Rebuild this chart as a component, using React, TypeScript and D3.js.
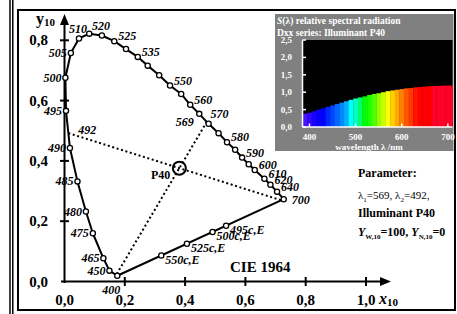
import React from 'react';
import * as d3 from 'd3';

// spectral locus, CIE 1964 (10 deg) chromaticity
const locusWl = [400, 450, 465, 475, 480, 485, 490, 495, 500, 505, 510, 515, 520, 525, 530, 535, 540, 545, 550, 555, 560, 565, 570, 575, 580, 585, 590, 595, 600, 610, 620, 640, 700];
const locusX = [0.175, 0.149, 0.129, 0.094, 0.071, 0.043, 0.018, 0.005, 0.003, 0.021, 0.048, 0.082, 0.124, 0.165, 0.204, 0.243, 0.276, 0.314, 0.350, 0.387, 0.417, 0.447, 0.478, 0.511, 0.539, 0.566, 0.589, 0.611, 0.631, 0.663, 0.683, 0.705, 0.727];
const locusY = [0.019, 0.036, 0.077, 0.160, 0.232, 0.332, 0.443, 0.566, 0.676, 0.758, 0.806, 0.822, 0.816, 0.797, 0.771, 0.745, 0.716, 0.684, 0.650, 0.622, 0.586, 0.556, 0.523, 0.492, 0.462, 0.437, 0.411, 0.389, 0.370, 0.341, 0.321, 0.298, 0.273];
const labeledWl = [400, 450, 465, 475, 480, 485, 490, 495, 500, 505, 510, 520, 525, 535, 550, 560, 570, 580, 590, 600, 610, 620, 640, 700];

// points on the purple line
const purpleNames = ['550c,E', '525c,E', '500c,E', '495c,E'];
const purpleX = [0.321, 0.406, 0.491, 0.536];
const purpleY = [0.086, 0.125, 0.164, 0.185];

const whiteName = 'P40';
const whiteX = 0.381;
const whiteY = 0.376;
const lambda1 = 569;
const lambda2 = 492;

const xTicks = [0, 0.2, 0.4, 0.6, 0.8, 1.0];
const yTicks = [0, 0.2, 0.4, 0.6, 0.8];

// inset: relative spectral radiation of P40
const spectWl = [390, 400, 410, 420, 430, 440, 450, 460, 470, 480, 490, 500, 510, 520, 530, 540, 550, 560, 570, 580, 590, 600, 610, 620, 630, 640, 650, 660, 670, 680, 690, 700];
const spectS = [0.38, 0.41, 0.45, 0.50, 0.54, 0.58, 0.62, 0.66, 0.70, 0.74, 0.78, 0.82, 0.85, 0.88, 0.92, 0.95, 0.97, 1.00, 1.03, 1.05, 1.07, 1.09, 1.11, 1.12, 1.14, 1.15, 1.16, 1.17, 1.18, 1.18, 1.19, 1.19];
const spectColors = ['#4a14ff', '#3008ff', '#1a00ff', '#0800ff', '#0000ff', '#0028ff', '#0048ff', '#0068ff', '#0088ff', '#00b0ff', '#00ffff', '#00ffc0', '#00ff70', '#00ff00', '#20ff00', '#50ff00', '#90ff00', '#c8ff00', '#ffff00', '#ffd000', '#ffa800', '#ff8000', '#ff5800', '#ff3800', '#ff1400', '#ff0000', '#ff0000', '#ff0000', '#ff0028', '#ff0028', '#ff0028', '#ff0028'];
const spectYTicks = [0, 0.5, 1.0, 1.5, 2.0, 2.5];
const spectXTicks = [400, 500, 600, 700];

const FONT = "'Liberation Serif','Times New Roman',Times,serif";
const comma = (v: number) => v.toFixed(1).replace('.', ',');

const x = d3.scaleLinear().domain([0, 1]).range([64.5, 366]);
const y = d3.scaleLinear().domain([0, 1]).range([281.5, -20]);
const sx = d3.scaleLinear().domain([385, 710]).range([302.5, 452.5]);
const sy = d3.scaleLinear().domain([0, 2.5]).range([127, 40]);

type Pt = [number, number];

function locusAt(wl: number): Pt {
  const i = d3.bisectRight(locusWl, wl) - 1;
  const t = (wl - locusWl[i]) / (locusWl[i + 1] - locusWl[i]);
  return [
    locusX[i] + t * (locusX[i + 1] - locusX[i]),
    locusY[i] + t * (locusY[i + 1] - locusY[i]),
  ];
}

// first hit of a ray with the closed locus (purple line included)
function rayHit(o: Pt, d: Pt): Pt {
  const pts: Pt[] = locusWl.map((_, i) => [locusX[i], locusY[i]] as Pt);
  pts.push(pts[0]);
  let best = Infinity;
  for (let i = 0; i < pts.length - 1; i++) {
    const [ax, ay] = pts[i];
    const ex = pts[i + 1][0] - ax, ey = pts[i + 1][1] - ay;
    const den = d[0] * ey - d[1] * ex;
    if (Math.abs(den) < 1e-12) continue;
    const t = ((ax - o[0]) * ey - (ay - o[1]) * ex) / den;
    const u = ((ax - o[0]) * d[1] - (ay - o[1]) * d[0]) / den;
    if (t > 1e-6 && u >= 0 && u <= 1 && t < best) best = t;
  }
  return [o[0] + d[0] * best, o[1] + d[1] * best];
}

function labelProps(wl: number, px: number, py: number) {
  if (wl === 400) return { x: px - 6, y: py + 18, anchor: 'middle' };
  if (wl < 510) return { x: px - 4, y: py + 4, anchor: 'end' };
  if (wl <= 520) return { x: px - 1, y: py - 5, anchor: 'middle' };
  if (wl === 700) return { x: px + 8, y: py + 5, anchor: 'start' };
  if (wl === 570) return { x: px + 2, y: py - 6, anchor: 'start' };
  return { x: px + 4, y: py - 1, anchor: 'start' };
}

function Chart() {
  const line = d3.line<number>().x((_, i) => x(locusX[i])).y((_, i) => y(locusY[i]));
  const locusPath = line(locusWl) || '';
  const purplePath = `M${x(locusX[0])},${y(locusY[0])}L${x(locusX[locusX.length - 1])},${y(locusY[locusY.length - 1])}`;

  const w: Pt = [whiteX, whiteY];
  const p1 = locusAt(lambda1);
  const p2 = locusAt(lambda2);
  const e1 = rayHit(w, [w[0] - p1[0], w[1] - p1[1]]);
  const e2 = rayHit(w, [w[0] - p2[0], w[1] - p2[1]]);
  const wx = x(whiteX), wy = y(whiteY);

  const dot = { stroke: '#000', strokeWidth: 2, strokeDasharray: '2 2.6', fill: 'none' };
  const lab = { fontFamily: FONT, fontSize: 12, fontWeight: 'bold', fontStyle: 'italic', fill: '#000' } as const;

  return (
    <svg width={457} height={314} style={{ position: 'absolute', left: 0, top: 0, background: '#fff' }}>
      {/* frame */}
      <line x1={10} y1={0} x2={10} y2={314} stroke="#000" strokeWidth={1.5} />
      <line x1={12.8} y1={0} x2={12.8} y2={314} stroke="#000" strokeWidth={1.5} />
      <rect x={18} y={10} width={437} height={300} fill="none" stroke="#000" strokeWidth={2} />

      {/* axes */}
      <line x1={61} y1={y(0)} x2={384} y2={y(0)} stroke="#000" strokeWidth={2} />
      <polygon points={`391,${y(0)} 380,${y(0) - 4.5} 380,${y(0) + 4.5}`} fill="#000" />
      <line x1={x(0)} y1={y(0) + 1.5} x2={x(0)} y2={22} stroke="#000" strokeWidth={2} />
      <polygon points={`${x(0)},14 ${x(0) - 4.5},25 ${x(0) + 4.5},25`} fill="#000" />
      {xTicks.filter((t) => t > 0).map((t) => (
        <line key={'xt' + t} x1={x(t)} x2={x(t)} y1={y(0) - 4.5} y2={y(0) + 4.5} stroke="#000" strokeWidth={2} />
      ))}
      {yTicks.filter((t) => t > 0).map((t) => (
        <line key={'yt' + t} x1={x(0) - 4.5} x2={x(0) + 4.5} y1={y(t)} y2={y(t)} stroke="#000" strokeWidth={2} />
      ))}
      {xTicks.map((t) => (
        <text key={'xl' + t} x={x(t)} y={305} textAnchor="middle" fontFamily={FONT} fontSize={15} fontWeight="bold">{comma(t)}</text>
      ))}
      {yTicks.map((t) => (
        <text key={'yl' + t} x={48} y={y(t) + 5} textAnchor="end" fontFamily={FONT} fontSize={15} fontWeight="bold">{comma(t)}</text>
      ))}
      <text x={36} y={24} fontFamily={FONT} fontSize={16} fontWeight="bold">y<tspan fontSize={11} dy={2}>10</tspan></text>
      <text x={379} y={304} fontFamily={FONT} fontSize={16} fontWeight="bold"><tspan fontStyle="italic">x</tspan><tspan fontSize={11} dy={2}>10</tspan></text>
      <text x={230} y={272} fontFamily={FONT} fontSize={15} fontWeight="bold">CIE 1964</text>

      {/* dotted construction lines */}
      <line x1={x(p1[0])} y1={y(p1[1])} x2={x(e1[0])} y2={y(e1[1])} {...dot} />
      <line x1={x(p2[0])} y1={y(p2[1])} x2={x(e2[0])} y2={y(e2[1])} {...dot} />

      {/* locus and purple line */}
      <path d={locusPath} fill="none" stroke="#000" strokeWidth={2} strokeLinejoin="round" />
      <path d={purplePath} fill="none" stroke="#000" strokeWidth={2} />
      {locusWl.map((wl, i) => (
        <circle key={'m' + wl} cx={x(locusX[i])} cy={y(locusY[i])} r={2.6} fill="#fff" stroke="#000" strokeWidth={1.3} />
      ))}
      {purpleNames.map((n, i) => (
        <circle key={'pm' + n} cx={x(purpleX[i])} cy={y(purpleY[i])} r={2.6} fill="#fff" stroke="#000" strokeWidth={1.3} />
      ))}
      {labeledWl.map((wl) => {
        const i = locusWl.indexOf(wl);
        const p = labelProps(wl, x(locusX[i]), y(locusY[i]));
        return (
          <text key={'l' + wl} x={p.x} y={p.y} textAnchor={p.anchor} {...lab}>{wl}</text>
        );
      })}
      {purpleNames.map((n, i) => (
        <text key={'pl' + n} x={x(purpleX[i]) + 4} y={y(purpleY[i]) + 8} {...lab}>{n}</text>
      ))}
      <text x={x(p1[0]) - 13} y={y(p1[1]) + 4} textAnchor="end" {...lab}>{lambda1}</text>
      <text x={x(p2[0]) + 10} y={y(p2[1]) + 1} {...lab}>{lambda2}</text>

      {/* white point */}
      <circle cx={wx} cy={wy} r={6.5} fill="none" stroke="#000" strokeWidth={2} />
      <text x={wx - 9} y={wy + 11} textAnchor="end" fontFamily={FONT} fontSize={12} fontWeight="bold">{whiteName}</text>

      {/* parameter block */}
      <g fontFamily={FONT} fontSize={12} fill="#000">
        <text x={358} y={177} fontWeight="bold">Parameter:</text>
        <text x={358} y={199} fontSize={11}>
          λ<tspan fontSize={7} dy={3}>1</tspan><tspan dy={-3}>={lambda1}, λ</tspan><tspan fontSize={7} dy={3}>2</tspan><tspan dy={-3}>={lambda2},</tspan>
        </text>
        <text x={358} y={217} fontWeight="bold">Illuminant {whiteName}</text>
        <text x={358} y={236} fontWeight="bold">
          <tspan fontStyle="italic">Y</tspan><tspan fontSize={7} dy={3}>W,10</tspan><tspan dy={-3}>=100, </tspan><tspan fontStyle="italic">Y</tspan><tspan fontSize={7} dy={3}>N,10</tspan><tspan dy={-3}>=0</tspan>
        </text>
      </g>

      {/* spectral inset */}
      <rect x={275} y={14} width={178.5} height={137} fill="#808080" />
      <rect x={sx(385)} y={sy(2.5)} width={sx(710) - sx(385)} height={sy(0) - sy(2.5)} fill="#000" />
      {spectWl.map((wl, i) => {
        const x0 = sx(wl - 5);
        const x1 = i === spectWl.length - 1 ? sx(710) : sx(wl + 5);
        return (
          <rect key={'b' + wl} x={x0} y={sy(spectS[i])} width={x1 - x0 + 0.3} height={sy(0) - sy(spectS[i])} fill={spectColors[i]} />
        );
      })}
      <line x1={sx(385)} y1={sy(0)} x2={sx(710)} y2={sy(0)} stroke="#fff" strokeWidth={1.5} />
      <line x1={sx(385)} y1={sy(0)} x2={sx(385)} y2={sy(2.5)} stroke="#fff" strokeWidth={1.5} />
      {spectYTicks.map((t) => (
        <g key={'sy' + t}>
          <line x1={sx(385)} x2={sx(385) + 3.5} y1={sy(t)} y2={sy(t)} stroke="#fff" strokeWidth={1.5} />
          <text x={292} y={sy(t) + 3} textAnchor="end" fontFamily={FONT} fontSize={9} fontWeight="bold" fill="#fff">{comma(t)}</text>
        </g>
      ))}
      {spectXTicks.map((t) => (
        <g key={'sx' + t}>
          <line x1={sx(t)} x2={sx(t)} y1={sy(0) - 3.5} y2={sy(0)} stroke="#fff" strokeWidth={1.5} />
          <text x={sx(t)} y={140} textAnchor="middle" fontFamily={FONT} fontSize={9} fontWeight="bold" fill="#fff">{t}</text>
        </g>
      ))}
      <text x={369} y={150} textAnchor="middle" fontFamily={FONT} fontSize={9} fontWeight="bold" fill="#fff">wavelength λ /nm</text>
      <text x={277} y={24} fontFamily={FONT} fontSize={9.5} fontWeight="bold" fill="#fff">
        <tspan fontStyle="italic">S</tspan>(λ) relative spectral radiation
      </text>
      <text x={277} y={36} fontFamily={FONT} fontSize={9.5} fontWeight="bold" fill="#fff">Dxx series: Illuminant {whiteName}</text>
    </svg>
  );
}

export default function App() {
  return <Chart />;
}
